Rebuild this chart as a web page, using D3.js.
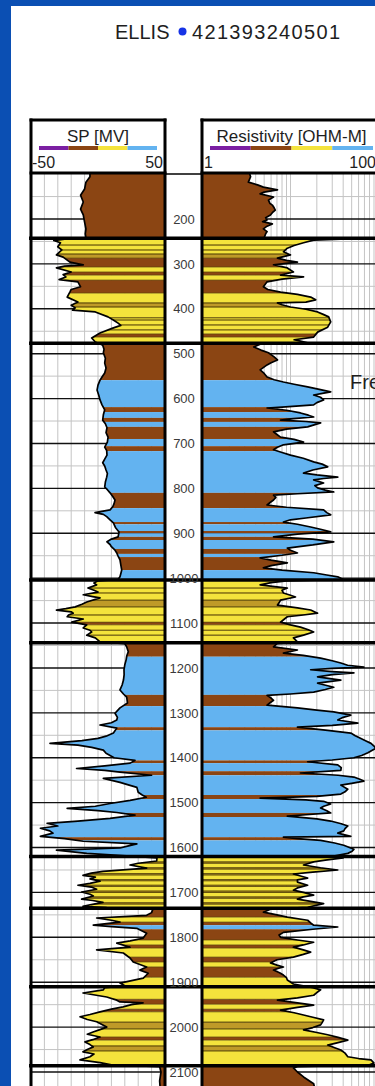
<!DOCTYPE html>
<html>
<head>
<meta charset="utf-8">
<script src="https://cdn.jsdelivr.net/npm/d3@7"></script>
<style>
  html, body { margin: 0; padding: 0; background: #0b4fb3; }
  svg { display: block; font-family: "Liberation Sans", Arial, sans-serif; }
</style>
</head>
<body>
<svg id="chart" width="375" height="1086"></svg>
<script>
// ---- Well header ----
const wellName = "ELLIS";
const wellApi = "421393240501";
const sideNote = "Fresh Water";

// ---- Track headers ----
const spTitle = "SP [MV]";
const spRange = [-50, 50];
const resTitle = "Resistivity [OHM-M]";
const resRange = [1, 100];
const legendColors = ["#7b1fa2", "#8b4513", "#f4e33c", "#63b3f0"];

// ---- Depth ticks (ft) ----
const depthTicks = d3.range(200, 2101, 100);

// ---- Formation tops (ft) ----
const formationTops = [243, 477, 1004, 1144, 1620, 1735, 1910, 2086];

// ---- Lithology bands: [top ft, base ft, code] ----
// sh = shale, sd = sand, ms = silty sand, fw = fresh-water sand
const lithBands = [
  [90, 243, "sh"],
  [243, 258, "sd"], [258, 269, "sd"], [269, 278, "sd"], [278, 287, "ms"],
  [287, 307, "sh"], [307, 318, "sd"], [318, 325, "sh"], [325, 336, "sd"],
  [336, 365, "sh"], [365, 387, "sd"], [387, 396, "ms"], [396, 420, "sd"],
  [420, 425, "sd"], [425, 436, "sd"], [436, 447, "sd"], [447, 456, "sd"],
  [456, 463, "sh"], [463, 477, "sd"],
  [477, 559, "sh"], [559, 619, "fw"], [619, 630, "sh"], [630, 643, "fw"],
  [643, 652, "sh"], [652, 663, "fw"], [663, 690, "sh"], [690, 706, "fw"],
  [706, 717, "sh"], [717, 810, "fw"], [810, 844, "sh"], [844, 875, "fw"],
  [875, 880, "sh"], [880, 895, "fw"], [895, 900, "sh"], [900, 908, "fw"],
  [908, 915, "sh"], [915, 935, "fw"], [935, 946, "sh"], [946, 953, "fw"],
  [953, 982, "sh"], [982, 1004, "fw"],
  [1004, 1022, "sd"], [1022, 1033, "sd"], [1033, 1049, "sd"], [1049, 1064, "ms"],
  [1064, 1082, "sd"], [1082, 1098, "sd"], [1098, 1104, "sh"], [1104, 1116, "sd"],
  [1116, 1127, "sd"], [1127, 1144, "sd"],
  [1144, 1175, "sh"], [1175, 1260, "fw"], [1260, 1285, "sh"], [1285, 1332, "fw"],
  [1332, 1339, "sh"], [1339, 1406, "fw"], [1406, 1412, "sh"], [1412, 1430, "fw"],
  [1430, 1439, "sh"], [1439, 1483, "fw"], [1483, 1492, "sh"], [1492, 1523, "fw"],
  [1523, 1532, "sh"], [1532, 1577, "fw"], [1577, 1584, "sh"], [1584, 1620, "fw"],
  [1620, 1632, "sd"], [1632, 1635, "ms"], [1635, 1645, "sd"], [1645, 1648, "ms"],
  [1648, 1658, "sd"], [1658, 1661, "ms"], [1661, 1671, "sd"], [1671, 1674, "ms"],
  [1674, 1684, "sd"], [1684, 1687, "ms"], [1687, 1697, "sd"], [1697, 1700, "ms"],
  [1700, 1710, "sd"], [1710, 1713, "ms"], [1713, 1723, "sd"], [1723, 1726, "ms"],
  [1726, 1735, "sd"],
  [1735, 1755, "sh"], [1755, 1766, "sd"], [1766, 1773, "sh"], [1773, 1782, "fw"],
  [1782, 1806, "sh"], [1806, 1817, "sd"], [1817, 1824, "sh"], [1824, 1844, "sd"],
  [1844, 1855, "sh"], [1855, 1866, "sd"], [1866, 1889, "sh"], [1889, 1910, "sd"],
  [1910, 1938, "sd"], [1938, 1949, "sh"], [1949, 1960, "sd"], [1960, 1966, "sh"],
  [1966, 1989, "sd"], [1989, 2004, "ms"], [2004, 2022, "sd"], [2022, 2029, "sh"],
  [2029, 2042, "sd"], [2042, 2053, "ms"], [2053, 2086, "sd"],
  [2086, 2160, "sh"]
];
const lithColors = { sh: "#8b4513", sd: "#f4e33c", ms: "#bf9a28", fw: "#63b3f0" };

// ---- SP curve: [depth ft, mV] ----
const spLog = [
  [90,-6],[106,-6],[118,-9],[133,-10],[147,-13],[162,-11],[178,-13],[191,-11],[207,-10],[222,-9],[233,-9.5],[242,-9],
  [245,-25],[248,-33],[253,-28],[262,-30],[269,-27],[280,-31],[285,-26],[296,-21],[302,-11],[305,-25],[309,-31],[318,-20],
  [324,-26],[329,-24],[335,-29],[340,-15],[351,-13],[357,-20],[363,-21],[374,-23],[385,-15],[392,-20],[398,-17],[403,-19],
  [407,-2],[418,7.5],[426,12],[432,15],[437,17],[443,11],[454,1.5],[465,-4.7],[474,-2],
  [479,2],[481,3.5],[490,4.5],[498,4],[510,5.5],[521,5],[532,6],[543,5],[552,3],[559,1.5],[570,0],[581,-0.7],[592,0.5],
  [603,1.5],[614,3],[625,5],[636,4],[648,3.5],[656,5.5],[665,6.7],[676,6],[686,7.5],[697,7],[708,5],[716,6.5],[726,6.7],
  [735,5],[743,3.5],[750,5],[759,6],[767,7],[775,6.5],[786,5.5],[797,5],[803,7],[810,9],[818,11],[826,12.7],[834,12],
  [841,11],[848,9],[854,-2.2],[858,4],[863,6.5],[870,9],[877,11.5],[887,13],[897,15.7],[908,15],[913,10],[919,6.7],
  [925,9],[930,10],[937,12.5],[944,14],[951,15],[959,16.4],[970,17],[982,17.7],[990,17],[997,16.4],[1003,15],
  [1006,0],[1011,-3],[1015,-1],[1022,-7.5],[1027,-3],[1031,0],[1037,-11],[1041,-4],[1044,1.5],[1053,-8.4],[1058,-12],
  [1064,-17],[1068,-24],[1071,-31],[1075,-20],[1078,-18.5],[1082,-22],[1086,-23],[1091,-11],[1098,-19.6],[1104,-8.4],
  [1111,-11],[1116,-6],[1120,-4.7],[1127,-8.4],[1133,-2],[1138,0],[1142,1.5],
  [1146,20],[1153,21.4],[1164,22.6],[1173,21.5],[1182,21],[1193,20],[1204,19.4],[1215,19.5],[1227,19],[1238,18],[1249,16.4],
  [1258,19],[1265,21.4],[1278,22],[1289,16.4],[1301,12.7],[1310,14.5],[1316,14],[1322,10],[1327,1.5],[1334,14],[1345,11.5],
  [1352,6],[1357,0],[1362,-12],[1368,-35.8],[1372,-15],[1377,-4.7],[1383,4],[1390,6],[1395,9],[1400,12],[1406,27.6],
  [1412,24],[1418,5],[1424,-16],[1428,5],[1432,16.4],[1439,40],[1446,4],[1455,16.4],[1460,22],[1466,29],[1477,30],
  [1483,33],[1488,36],[1495,24],[1502,9],[1508,-2],[1513,-23],[1518,0],[1522,14],[1528,27.6],[1535,9],[1541,-15],
  [1546,-38],[1552,-30],[1557,-43],[1563,-36],[1568,-33.6],[1575,-43],[1580,-25],[1586,-11],[1592,29],[1597,22],
  [1601,16.4],[1606,-31],[1613,-8.4],[1619,24],
  [1623,44],[1630,43.8],[1635,30],[1639,23.9],[1646,36.3],[1653,3.7],[1657,-5],[1662,-11.2],[1666,-2],[1670,-6],
  [1675,1.5],[1680,-6],[1684,-15],[1688,-5],[1693,-1],[1699,-12.2],[1704,-6],[1708,-3.5],[1715,-12.2],[1718,-4],
  [1722,3.7],[1727,-5],[1731,-11.2],[1734,6.5],
  [1737,41],[1745,40],[1751,36.3],[1757,-1],[1762,10],[1766,16.4],[1773,-3.5],[1776,10],[1780,28.9],[1791,36.3],
  [1802,33.6],[1808,24],[1813,14],[1822,23.9],[1828,-1],[1835,18.9],[1846,23.9],[1855,26.3],[1866,36.3],[1873,31.3],
  [1880,37.5],[1891,33.8],[1902,16.4],[1908,20],
  [1912,5],[1917,4],[1924,-11.2],[1933,6.5],[1940,14],[1944,16.4],[1946,33.6],[1950,25],[1955,18.7],[1960,10],
  [1966,1.5],[1972,-6],[1977,-13.4],[1983,-8],[1988,-1],[2000,6.5],[2005,2],[2011,-3.7],[2016,-8],[2022,1.5],
  [2028,-4],[2033,-9.7],[2039,-6],[2044,-3.5],[2050,-8],[2055,-11.2],[2060,-3],[2066,-6],[2073,-13.4],[2079,1.5],
  [2084,10],
  [2088,46],[2100,47],[2120,46],[2160,47]
];

// ---- Resistivity curve: [depth ft, ohm-m] ----
const resLog = [
  [90,3.3],[106,3.5],[118,3.3],[124,4.2],[129,4.9],[135,7.1],[140,5],[144,4.5],[151,6.4],[158,5.6],[165,5.8],[169,6.2],
  [175,6.5],[180,6.7],[186,6.2],[191,5.9],[197,5.2],[202,5.4],[206,4.8],[211,6.2],[216,5.4],[222,4.9],[228,5.4],
  [233,5.2],[242,5.0],
  [244,53],[247,18.4],[253,14.1],[259,11],[265,9.2],[273,8.3],[280,10],[287,7.1],[292,9],[296,12],[302,6.4],[309,9.2],
  [318,10.8],[325,7.7],[329,14.1],[334,8],[340,5.4],[351,4.9],[357,5.5],[363,7.7],[368,12],[374,17],[380,19.4],
  [385,15],[387,7.1],[391,8],[396,10],[401,15],[407,20.4],[413,24],[418,27.3],[429,28.8],[441,26.6],[452,20.4],
  [463,18.4],[469,11],[472,13],[476,15.7],
  [479,4.5],[485,3.8],[492,4.6],[498,5.6],[507,6.5],[514,7.1],[520,6],[525,5.4],[536,4.5],[544,5],[552,5.4],[558,6.5],
  [563,8.3],[568,11],[574,15.7],[580,22],[585,28.8],[588,24],[592,18.4],[597,22],[603,23.9],[609,20],[614,18.4],
  [619,8],[621,5.4],[626,9],[632,13],[637,16],[641,18.4],[645,10],[648,7.7],[651,15],[654,22.1],[658,19],[663,15.7],
  [668,9],[674,6.4],[680,7],[686,7.7],[691,11],[697,14.1],[703,8.3],[709,7],[714,6.4],[720,8],[726,10],[733,14],
  [741,18.4],[746,23],[752,26.6],[759,18],[766,14.1],[770,20],[775,34.7],[778,24],[781,18.4],[788,23.9],[794,19],
  [799,20.4],[804,25],[808,31.2],[812,12],[815,6.4],[820,6.8],[826,6.4],[832,5.8],[837,5.4],[842,9],[848,23.9],
  [854,26],[859,28.8],[866,15],[870,10],[875,8.3],[880,12],[886,17],[891,22],[897,28.8],[902,12],[908,6.4],[913,18],
  [919,31.2],[926,18],[933,9.2],[938,10],[944,12],[949,8],[955,4.5],[960,6],[966,9.2],[972,6],[977,4.9],[982,8],
  [988,18.4],[993,26],[997,34.7],[1003,40],
  [1006,9],[1010,6],[1015,4.5],[1022,9.2],[1027,8],[1033,8.3],[1038,10],[1042,11.4],[1049,7.7],[1055,7.4],[1060,7.1],
  [1066,12],[1071,17],[1078,20.4],[1082,14],[1086,9.2],[1092,8.4],[1098,7.7],[1104,10],[1109,13],[1115,16],[1120,18.4],
  [1127,14.1],[1133,10.8],[1142,12],
  [1146,7],[1153,6.4],[1160,12],[1167,8.3],[1172,14],[1178,22.1],[1184,30],[1189,37.6],[1194,45],[1198,69],[1201,30],
  [1204,17],[1208,30],[1211,53],[1215,30],[1220,20.4],[1227,37.6],[1234,20.4],[1243,31.2],[1248,25],[1254,18.4],
  [1258,10],[1261,5.4],[1267,6],[1272,6.4],[1278,5.8],[1283,5.4],[1289,12],[1294,20],[1298,31.2],[1305,48.9],
  [1310,40],[1316,34.7],[1323,58.9],[1328,30],[1332,12],[1339,26.6],[1345,48.9],[1351,55],[1357,63.8],[1362,72],
  [1368,83.2],[1374,90],[1379,94],[1384,85],[1389,76.7],[1395,65],[1400,53],[1405,30],[1409,15.7],[1416,34.7],
  [1422,38],[1428,37.6],[1434,13],[1439,35],[1443,53],[1448,62],[1452,69],[1457,50],[1461,37.6],[1470,45.2],
  [1476,42],[1481,37.6],[1486,20],[1490,4.5],[1494,15],[1497,23.9],[1503,28.8],[1508,24],[1512,22.1],[1518,26],
  [1523,28.8],[1527,15],[1530,9.2],[1536,20],[1541,28.8],[1547,38],[1552,45.2],[1558,42],[1563,40.6],[1568,34.7],
  [1575,48.9],[1577,8.3],[1580,12],[1584,22.1],[1590,32],[1595,40.6],[1604,53],[1609,50],[1613,45.2],[1619,31.2],
  [1623,40],[1628,25],[1632,18.4],[1639,14.1],[1645,22],[1650,34.7],[1655,18],[1659,10.8],[1668,15.7],[1672,12],
  [1677,12],[1684,15.7],[1690,12],[1695,10.8],[1700,14],[1706,18.4],[1710,14],[1715,12],[1720,17],[1725,23.9],
  [1733,15.7],
  [1737,6],[1744,4.9],[1750,7],[1755,9.2],[1762,15.7],[1768,17],[1773,18.4],[1777,34.7],[1782,18],[1789,8.3],
  [1795,7.4],[1800,7.7],[1806,12],[1811,18.4],[1817,14],[1822,10.8],[1828,14],[1833,17],[1838,14],[1844,10.8],
  [1850,7],[1857,5.9],[1862,7],[1866,8.3],[1870,7],[1873,6.4],[1879,7.5],[1884,8.3],[1890,9],[1895,9.2],[1904,10.8],
  [1912,18],[1917,22.1],[1923,20],[1929,18.4],[1935,12],[1940,7.1],[1946,12],[1951,18.4],[1956,12],[1962,7.7],
  [1968,11],[1973,14.1],[1978,18],[1984,23.9],[1990,23],[1995,22.1],[2001,18],[2006,14.1],[2012,20],[2017,26.6],
  [2023,35],[2029,45.2],[2035,34],[2040,26.6],[2046,32],[2051,37.6],[2058,42],[2066,45.2],[2070,60],[2073,83.2],
  [2080,89.9],[2084,80],
  [2088,12],[2091,10.8],[2100,12],[2111,14.1],[2120,16.5],[2126,18.4],[2160,20]
];

// ---------------- drawing ----------------
const W = 375, H = 1086;
const svg = d3.select("#chart");
const defs = svg.append("defs");

// slide background and white page
svg.append("rect").attr("width", W).attr("height", H).attr("fill", "#0b4fb3");
svg.append("rect").attr("x", 11).attr("y", 6).attr("width", W - 11).attr("height", H - 6).attr("fill", "#ffffff");

// title
svg.append("text").attr("x", 115).attr("y", 39).attr("font-size", 20).attr("fill", "#1e1e1e").text(wellName);
svg.append("circle").attr("cx", 182.5).attr("cy", 31.5).attr("r", 4).attr("fill", "#1633e6");
svg.append("text").attr("x", 192).attr("y", 39).attr("font-size", 20).attr("fill", "#1e1e1e")
  .attr("textLength", 148).attr("lengthAdjust", "spacing").text(wellApi);

// layout
const headTop = 120, plotTop = 173;
const spTrack = { x0: 31, x1: 165 };
const resTrack = { x0: 203, x1: 378 };
const depthMid = 184;

const y = d3.scaleLinear().domain([200, 2100]).range([219, 1072]);
const spX = d3.scaleLinear().domain(spRange).range([spTrack.x0, spTrack.x1]).clamp(true);
const resX = d3.scaleLog().domain(resRange).range([resTrack.x0, resTrack.x1]).clamp(true);
const dTop = y.invert(plotTop), dBot = y.invert(H);

// track clip rectangles
[["spTrackClip", spTrack], ["resTrackClip", resTrack]].forEach(([id, t]) => {
  defs.append("clipPath").attr("id", id).append("rect")
    .attr("x", t.x0).attr("y", plotTop).attr("width", t.x1 - t.x0).attr("height", H - plotTop);
});

// grid
function drawGrid(track, xs, clipId) {
  const g = svg.append("g").attr("clip-path", `url(#${clipId})`);
  g.selectAll("line.v").data(xs).join("line")
    .attr("x1", d => d).attr("x2", d => d).attr("y1", plotTop).attr("y2", H)
    .attr("stroke", "#c4c4c4").attr("stroke-width", 1);
  const minor = d3.range(50, 2200, 50).filter(d => d % 100 !== 0);
  g.selectAll("line.h").data(minor).join("line")
    .attr("x1", track.x0).attr("x2", track.x1).attr("y1", d => y(d)).attr("y2", d => y(d))
    .attr("stroke", "#c4c4c4").attr("stroke-width", 1);
  g.selectAll("line.m").data(depthTicks).join("line")
    .attr("x1", track.x0).attr("x2", track.x1).attr("y1", d => y(d)).attr("y2", d => y(d))
    .attr("stroke", "#111").attr("stroke-width", 1.4);
}
drawGrid(spTrack, d3.range(spRange[0] + 10, spRange[1], 10).map(spX), "spTrackClip");
const resGridVals = [];
[1, 10].forEach(dec => d3.range(2, 10).forEach(m => resGridVals.push(m * dec)));
resGridVals.push(10);
drawGrid(resTrack, resGridVals.map(resX), "resTrackClip");

// filled curves
const spArea = d3.area().y(d => y(d[0])).x0(d => spX(d[1])).x1(spTrack.x1);
const resArea = d3.area().y(d => y(d[0])).x0(resTrack.x0).x1(d => resX(d[1]));
defs.append("clipPath").attr("id", "spFillClip").append("path").attr("d", spArea(spLog));
defs.append("clipPath").attr("id", "resFillClip").append("path").attr("d", resArea(resLog));

function drawFill(track, fillClip, trackClip) {
  const outer = svg.append("g").attr("clip-path", `url(#${trackClip})`);
  const g = outer.append("g").attr("clip-path", `url(#${fillClip})`);
  g.selectAll("rect").data(lithBands).join("rect")
    .attr("x", track.x0).attr("width", track.x1 - track.x0)
    .attr("y", d => y(d[0])).attr("height", d => y(d[1]) - y(d[0]))
    .attr("fill", d => lithColors[d[2]]);
  const edges = [];
  lithBands.filter(d => d[2] === "sd" || d[2] === "ms").forEach(d => { edges.push(d[0]); edges.push(d[1]); });
  g.selectAll("line").data(edges).join("line")
    .attr("x1", track.x0).attr("x2", track.x1).attr("y1", d => y(d)).attr("y2", d => y(d))
    .attr("stroke", "#5a4608").attr("stroke-width", 0.8).attr("opacity", 0.85);
}
drawFill(spTrack, "spFillClip", "spTrackClip");
drawFill(resTrack, "resFillClip", "resTrackClip");

// curve outlines
const spLine = d3.line().y(d => y(d[0])).x(d => spX(d[1]));
const resLine = d3.line().y(d => y(d[0])).x(d => resX(d[1]));
svg.append("g").attr("clip-path", "url(#spTrackClip)").append("path").attr("d", spLine(spLog))
  .attr("fill", "none").attr("stroke", "#000").attr("stroke-width", 1.7).attr("stroke-linejoin", "round");
svg.append("g").attr("clip-path", "url(#resTrackClip)").append("path").attr("d", resLine(resLog))
  .attr("fill", "none").attr("stroke", "#000").attr("stroke-width", 1.7).attr("stroke-linejoin", "round");

// formation tops
svg.selectAll("line.top").data(formationTops).join("line")
  .attr("x1", spTrack.x0 - 2).attr("x2", W).attr("y1", d => y(d)).attr("y2", d => y(d))
  .attr("stroke", "#000").attr("stroke-width", 3.5);

// track borders and header boxes
const border = (x1, y1, x2, y2, w) => svg.append("line")
  .attr("x1", x1).attr("y1", y1).attr("x2", x2).attr("y2", y2).attr("stroke", "#000").attr("stroke-width", w);
border(spTrack.x0, headTop - 1.5, spTrack.x0, H, 3);
border(spTrack.x1, headTop - 1.5, spTrack.x1, H, 3);
border(resTrack.x0 - 1, headTop - 1.5, resTrack.x0 - 1, H, 3);
border(spTrack.x0 - 1.5, headTop, spTrack.x1 + 1.5, headTop, 3);
border(resTrack.x0 - 2.5, headTop, W, headTop, 3);
border(spTrack.x0 - 1.5, plotTop, spTrack.x1 + 1.5, plotTop, 3);
border(resTrack.x0 - 2.5, plotTop, W, plotTop, 3);
border(spTrack.x1, plotTop + 1, resTrack.x0, plotTop + 1, 1.5);

// header text and colour bars
function drawHeader(track, title, lo, hi, barX0, barX1) {
  const cx = (barX0 + barX1) / 2;
  svg.append("text").attr("x", cx).attr("y", 142).attr("text-anchor", "middle")
    .attr("font-size", 17).attr("fill", "#1e1e1e").text(title);
  const seg = (barX1 - barX0) / legendColors.length;
  legendColors.forEach((c, i) => svg.append("rect")
    .attr("x", barX0 + i * seg).attr("y", 146).attr("width", seg).attr("height", 4).attr("fill", c));
  svg.append("text").attr("x", track.x0 + 1).attr("y", 168).attr("font-size", 16).attr("fill", "#1e1e1e").text(lo);
  svg.append("text").attr("x", track.x1 - 2).attr("y", 168).attr("text-anchor", "end")
    .attr("font-size", 16).attr("fill", "#1e1e1e").text(hi);
}
drawHeader(spTrack, spTitle, String(spRange[0]), String(spRange[1]), 39, 157);
drawHeader(resTrack, resTitle, String(resRange[0]), String(resRange[1]), 210, 373);

// depth labels
svg.selectAll("text.depth").data(depthTicks).join("text")
  .attr("x", depthMid).attr("y", d => y(d)).attr("dy", "0.36em").attr("text-anchor", "middle")
  .attr("font-size", 13).attr("fill", "#3a3a3a").text(d => d);

// side annotation
svg.append("text").attr("x", 350).attr("y", 389).attr("font-size", 20).attr("fill", "#1e1e1e").text(sideNote);
</script>
</body>
</html>
